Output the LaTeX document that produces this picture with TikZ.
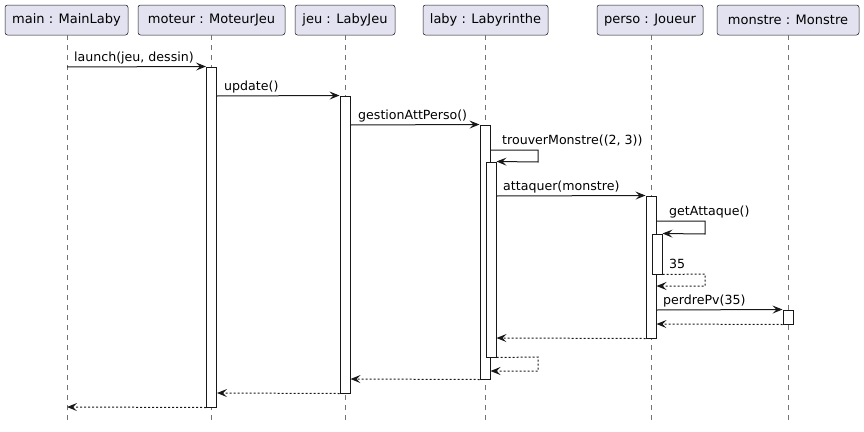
\documentclass[tikz,border=0pt]{standalone}
\usepackage{fontspec}
\setmainfont{DejaVu Sans}
\usetikzlibrary{arrows.meta}
\definecolor{lc}{HTML}{181818}
\definecolor{pfill}{HTML}{E2E2F0}
\tikzset{
  part/.style={draw=lc, fill=pfill, rounded corners=2.5pt, line width=0.5pt, minimum height=30pt, inner sep=0pt, font=\fontsize{13}{15}\selectfont},
  act/.style={draw=lc, fill=white, line width=1pt, minimum width=10pt, inner sep=0pt},
  life/.style={draw=lc!60, line width=0.5pt, dash pattern=on 5pt off 5pt},
  msg/.style={draw=lc, line width=1pt, -{Stealth[length=10pt,width=8pt,inset=4pt]}},
  ret/.style={msg, dash pattern=on 2pt off 2pt},
  lbl/.style={anchor=base west, inner sep=0pt, font=\fontsize{12.6}{14}\selectfont}
}
\begin{document}
\begin{tikzpicture}[x=1pt,y=-1pt]
\useasboundingbox (0,0) rectangle (864,431);
% participants
\node[part, minimum width=123pt] (pmain) at (66.5,20) {main : MainLaby};
\node[part, minimum width=147pt] (pmot) at (211.5,20) {moteur : MoteurJeu};
\node[part, minimum width=100pt] (pjeu) at (345,20) {jeu : LabyJeu};
\node[part, minimum width=125pt] (plab) at (485.5,20) {laby : Labyrinthe};
\node[part, minimum width=106pt] (pper) at (650,20) {perso : Joueur};
\node[part, minimum width=142pt] (pmon) at (788,20) {monstre : Monstre};
% lifeline ends
\coordinate (emain) at (67,421);
\coordinate (emot) at (211.5,421);
\coordinate (ejeu) at (345,421);
\coordinate (elab) at (485,421);
\coordinate (eper) at (651,421);
\coordinate (emon) at (788,421);
\draw[life] (67,35) -- (emain);
\draw[life] (211.5,35) -- (emot);
\draw[life] (345,35) -- (ejeu);
\draw[life] (485,35) -- (elab);
\draw[life] (651,35) -- (eper);
\draw[life] (788,35) -- (emon);
% activations
\node[act, minimum height=340pt] (a1) at (211.5,237) {};
\node[act, minimum height=297pt] (a2) at (345,244.5) {};
\node[act, minimum height=254pt] (a3) at (485,252) {};
\node[act, minimum height=195pt] (a4) at (491,259.5) {};
\node[act, minimum height=142pt] (a5) at (651,267) {};
\node[act, minimum height=40pt] (a6) at (657,254) {};
\node[act, minimum height=14pt] (a7) at (788,317) {};
% coordinates
\coordinate (m1s) at (67,67);
\coordinate (m2s) at (a1.east |- 0,96);
\coordinate (m3s) at (a2.east |- 0,125);
\coordinate (m4s) at (a3.east |- 0,150);
\coordinate (m4a) at (538,150);
\coordinate (m4b) at (538,162);
\coordinate (m5s) at (a4.east |- 0,196);
\coordinate (m6s) at (a5.east |- 0,221);
\coordinate (m6a) at (705,221);
\coordinate (m6b) at (705,234);
\coordinate (m7a) at (705,274);
\coordinate (m7b) at (705,286);
\coordinate (m7e) at (a5.east |- 0,286);
\coordinate (m8s) at (a5.east |- 0,310);
\coordinate (m9e) at (a5.east |- 0,324);
\coordinate (m10e) at (a4.east |- 0,338);
\coordinate (m11a) at (538,357);
\coordinate (m11b) at (538,371);
\coordinate (m11e) at (a3.east |- 0,371);
\coordinate (m12e) at (a2.east |- 0,379);
\coordinate (m13e) at (a1.east |- 0,393);
\coordinate (m14e) at (67,407);
% messages
\draw[msg] (m1s) -- (a1.north west);
\node[lbl] (l1) at (74,61) {launch(jeu, dessin)};
\draw[msg] (m2s) -- (a2.north west);
\node[lbl] (l2) at (224,90) {update()};
\draw[msg] (m3s) -- (a3.north west);
\node[lbl] (l3) at (358,119) {gestionAttPerso()};
\draw[msg] (m4s) -- (m4a) -- (m4b) -- (a4.north east);
\node[lbl] (l4) at (502,144) {trouverMonstre((2, 3))};
\draw[msg] (m5s) -- (a5.north west);
\node[lbl] (l5) at (503,190) {attaquer(monstre)};
\draw[msg] (m6s) -- (m6a) -- (m6b) -- (a6.north east);
\node[lbl] (l6) at (669,215) {getAttaque()};
\draw[ret] (a6.south east) -- (m7a) -- (m7b) -- (m7e);
\node[lbl] (l7) at (669,268) {35};
\draw[msg] (m8s) -- (a7.north west);
\node[lbl] (l8) at (663,304) {perdrePv(35)};
\draw[ret] (a7.south west) -- (m9e);
\draw[ret] (a5.south west) -- (m10e);
\draw[ret] (a4.south east) -- (m11a) -- (m11b) -- (m11e);
\draw[ret] (a3.south west) -- (m12e);
\draw[ret] (a2.south west) -- (m13e);
\draw[ret] (a1.south west) -- (m14e);
\end{tikzpicture}
\end{document}
